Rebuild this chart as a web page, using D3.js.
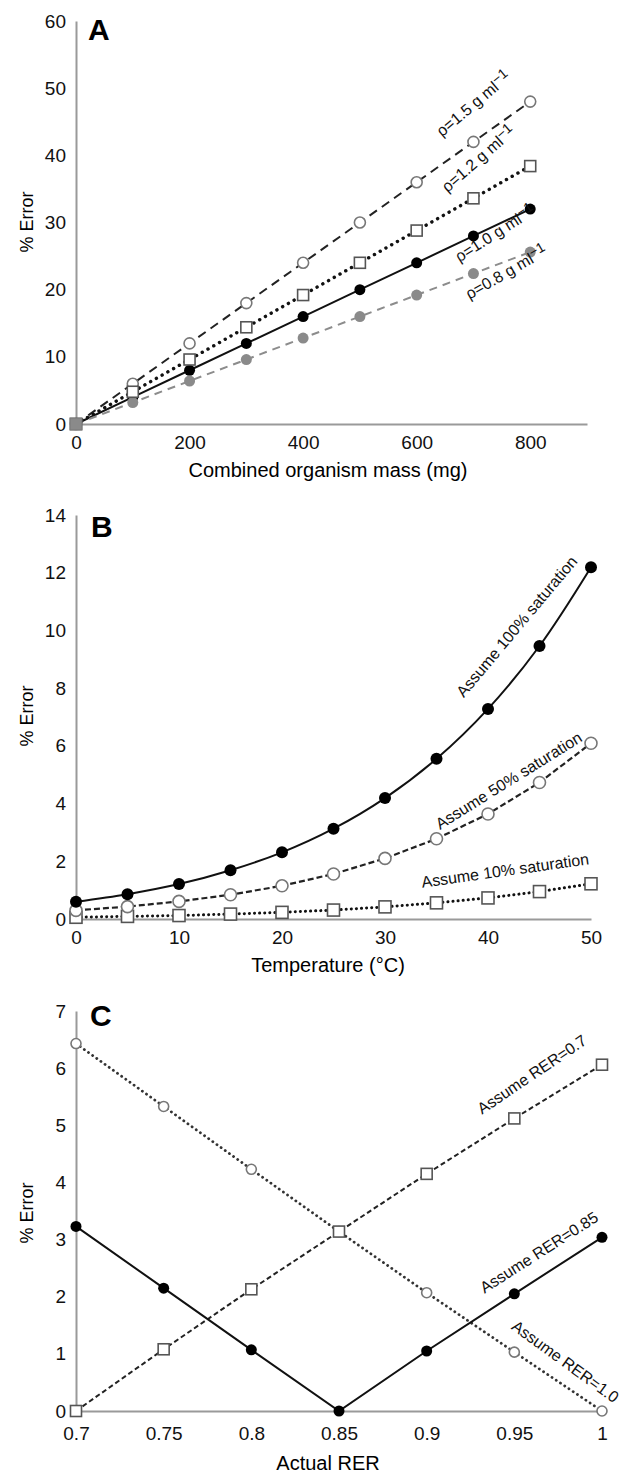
<!DOCTYPE html>
<html>
<head>
<meta charset="UTF-8">
<title>% Error panels</title>
<style>
  body { margin: 0; background: #fff; }
  text { font-family: "Liberation Sans", Arial, sans-serif; }
</style>
</head>
<body>
<script src="https://d3js.org/d3.v7.min.js"></script>
<script>
// panel A
const massA = [0, 100, 200, 300, 400, 500, 600, 700, 800]
const rho15 = [0, 6, 12, 18, 24, 30, 36, 42, 48]
const rho12 = [0, 4.8, 9.6, 14.4, 19.2, 24, 28.8, 33.6, 38.4]
const rho10 = [0, 4, 8, 12, 16, 20, 24, 28, 32]
const rho08 = [0, 3.2, 6.4, 9.6, 12.8, 16, 19.2, 22.4, 25.6]
const ticksAx = [0, 200, 400, 600, 800]
const ticksAy = [0, 10, 20, 30, 40, 50, 60]

// panel B
const tempB = [0, 5, 10, 15, 20, 25, 30, 35, 40, 45, 50]
const sat100 = [0.6, 0.86, 1.21, 1.69, 2.31, 3.13, 4.19, 5.55, 7.28, 9.46, 12.19]
const sat50 = [0.3, 0.43, 0.61, 0.84, 1.15, 1.56, 2.1, 2.78, 3.64, 4.73, 6.09]
const sat10 = [0.06, 0.09, 0.12, 0.17, 0.23, 0.31, 0.42, 0.56, 0.73, 0.95, 1.22]
const ticksBx = [0, 10, 20, 30, 40, 50]
const ticksBy = [0, 2, 4, 6, 8, 10, 12, 14]

// panel C
const rerC = [0.7, 0.75, 0.8, 0.85, 0.9, 0.95, 1]
const assume07 = [0, 1.08, 2.13, 3.14, 4.15, 5.12, 6.06]
const assume085 = [3.23, 2.15, 1.07, 0, 1.05, 2.05, 3.04]
const assume10 = [6.43, 5.33, 4.23, 3.14, 2.07, 1.03, 0]
const ticksCx = [0.7, 0.75, 0.8, 0.85, 0.9, 0.95, 1]
const ticksCy = [0, 1, 2, 3, 4, 5, 6, 7]

var svg = d3.select("body").append("svg")
  .attr("width", 621)
  .attr("height", 1473)

var axisColor = "#9a9a9a"

// draws the two axes of one panel and gives back its scales
function panel(p) {
  var x = d3.scaleLinear().domain(p.xDomain).range(p.xRange)
  var y = d3.scaleLinear().domain(p.yDomain).range(p.yRange)
  var g = svg.append("g")

  var ax = g.append("g")
    .attr("transform", "translate(0," + p.yRange[0] + ")")
    .call(d3.axisBottom(x).tickValues(p.xTicks).tickSize(0).tickPadding(p.xPad)
      .tickFormat(d => String(d)))
  var ay = g.append("g")
    .attr("transform", "translate(" + p.xRange[0] + ",0)")
    .call(d3.axisLeft(y).tickValues(p.yTicks).tickSize(0).tickPadding(10)
      .tickFormat(d => String(d)))
  ;[ax, ay].forEach(a => {
    a.select(".domain").attr("stroke", axisColor).attr("stroke-width", 2)
    a.selectAll("text").attr("font-size", "19px").attr("fill", "#111")
      .attr("font-family", "Liberation Sans, Arial, sans-serif")
  })

  g.append("text")
    .attr("x", (p.xRange[0] + 590) / 2 - 5)
    .attr("y", p.xTitleY)
    .attr("text-anchor", "middle")
    .attr("font-size", "20px")
    .text(p.xTitle)

  g.append("text")
    .attr("transform", "translate(33," + p.yTitleY + ") rotate(-90)")
    .attr("text-anchor", "middle")
    .attr("font-size", "18px")
    .text("% Error")

  g.append("text")
    .attr("x", p.letterX).attr("y", p.letterY)
    .attr("font-size", "30px").attr("font-weight", "bold")
    .text(p.letter)

  return { g: g, x: x, y: y }
}

function series(P, xs, ys, opt) {
  var pts = xs.map((d, i) => [d, ys[i]])
  var line = d3.line().x(d => P.x(d[0])).y(d => P.y(d[1]))
  if (opt.curve) line.curve(opt.curve)
  P.g.append("path")
    .attr("d", line(pts))
    .attr("fill", "none")
    .attr("stroke", opt.stroke)
    .attr("stroke-width", opt.width)
    .attr("stroke-dasharray", opt.dash || null)
    .attr("stroke-linecap", opt.cap || "butt")
  var r = opt.r
  if (opt.marker == "square") {
    P.g.selectAll(null).data(pts).enter().append("rect")
      .attr("x", d => P.x(d[0]) - r).attr("y", d => P.y(d[1]) - r)
      .attr("width", 2 * r).attr("height", 2 * r)
      .attr("fill", opt.fill || "#fff").attr("stroke", opt.mstroke).attr("stroke-width", 1.6)
  } else {
    P.g.selectAll(null).data(pts).enter().append("circle")
      .attr("cx", d => P.x(d[0])).attr("cy", d => P.y(d[1]))
      .attr("r", r)
      .attr("fill", opt.fill).attr("stroke", opt.mstroke || "none").attr("stroke-width", 1.6)
  }
}

function label(P, cx, cy, angle, txt, sup, anchor) {
  var t = P.g.append("text")
    .attr("transform", "translate(" + cx + "," + cy + ") rotate(" + angle + ")")
    .attr("text-anchor", anchor || "middle")
    .attr("font-size", "16px")
    .attr("fill", "#111")
    .text(txt)
  if (sup) {
    t.append("tspan").attr("dy", -5).attr("font-size", "14px").text(sup)
  }
}

// ---- A ----
var A = panel({
  xDomain: [0, 900], xRange: [76, 587], yDomain: [0, 60], yRange: [424, 21],
  xTicks: ticksAx, yTicks: ticksAy, xPad: 12,
  xTitle: "Combined organism mass (mg)", xTitleY: 477, yTitleY: 222,
  letter: "A", letterX: 88, letterY: 40
})
series(A, massA, rho15, { stroke: "#222", width: 2, dash: "9,6", marker: "circle", r: 5.5, fill: "#fff", mstroke: "#777" })
series(A, massA, rho10, { stroke: "#111", width: 2, marker: "circle", r: 5.5, fill: "#000" })
series(A, massA, rho08, { stroke: "#8c8c8c", width: 2, dash: "8,6", marker: "circle", r: 5.5, fill: "#8a8a8a" })
series(A, massA, rho12, { stroke: "#111", width: 3.4, dash: "0.1,6.5", cap: "round", marker: "square", r: 5.5, mstroke: "#555" })
// the overlapping markers at the origin read as one grey square
A.g.append("rect")
  .attr("x", A.x(massA[0]) - 6).attr("y", A.y(rho08[0]) - 6)
  .attr("width", 12).attr("height", 12)
  .attr("fill", "#8a8a8a").attr("stroke", "#777")
label(A, 477, 108, -40, "ρ=1.5 g ml", "−1")
label(A, 482, 163, -41, "ρ=1.2 g ml", "−1")
label(A, 498, 238, -32.5, "ρ=1.0 g ml", "−1")
label(A, 509, 277, -30, "ρ=0.8 g ml", "−1")

// ---- B ----
var B = panel({
  xDomain: [0, 50], xRange: [76, 591], yDomain: [0, 14], yRange: [919, 515],
  xTicks: ticksBx, yTicks: ticksBy, xPad: 12,
  xTitle: "Temperature (°C)", xTitleY: 972, yTitleY: 716,
  letter: "B", letterX: 91, letterY: 537
})
series(B, tempB, sat10, { stroke: "#111", width: 3, dash: "0.1,5", cap: "round", marker: "square", r: 6, mstroke: "#555" })
series(B, tempB, sat50, { stroke: "#222", width: 2.2, dash: "6,3", marker: "circle", r: 6, fill: "#fff", mstroke: "#777" })
series(B, tempB, sat100, { stroke: "#111", width: 2, curve: d3.curveCatmullRom, marker: "circle", r: 6, fill: "#000" })
label(B, 521, 630, -50, "Assume 100% saturation")
label(B, 440, 830, -32, "Assume 50% saturation", null, "start")
label(B, 506, 876, -8, "Assume 10% saturation")

// ---- C ----
var C = panel({
  xDomain: [0.7, 1], xRange: [76, 602], yDomain: [0, 7], yRange: [1411, 1011],
  xTicks: ticksCx, yTicks: ticksCy, xPad: 16,
  xTitle: "Actual RER", xTitleY: 1470, yTitleY: 1213,
  letter: "C", letterX: 90, letterY: 1026
})
series(C, rerC, assume10, { stroke: "#333", width: 2.8, dash: "0.1,5", cap: "round", marker: "circle", r: 5, fill: "#fff", mstroke: "#777" })
series(C, rerC, assume07, { stroke: "#222", width: 2, dash: "5,3", marker: "square", r: 5.5, mstroke: "#555" })
series(C, rerC, assume085, { stroke: "#111", width: 2, marker: "circle", r: 5.5, fill: "#000" })
label(C, 535, 1079, -34, "Assume RER=0.7")
label(C, 542, 1257, -32.5, "Assume RER=0.85")
label(C, 562, 1366, 36, "Assume RER=1.0")
</script>
</body>
</html>
